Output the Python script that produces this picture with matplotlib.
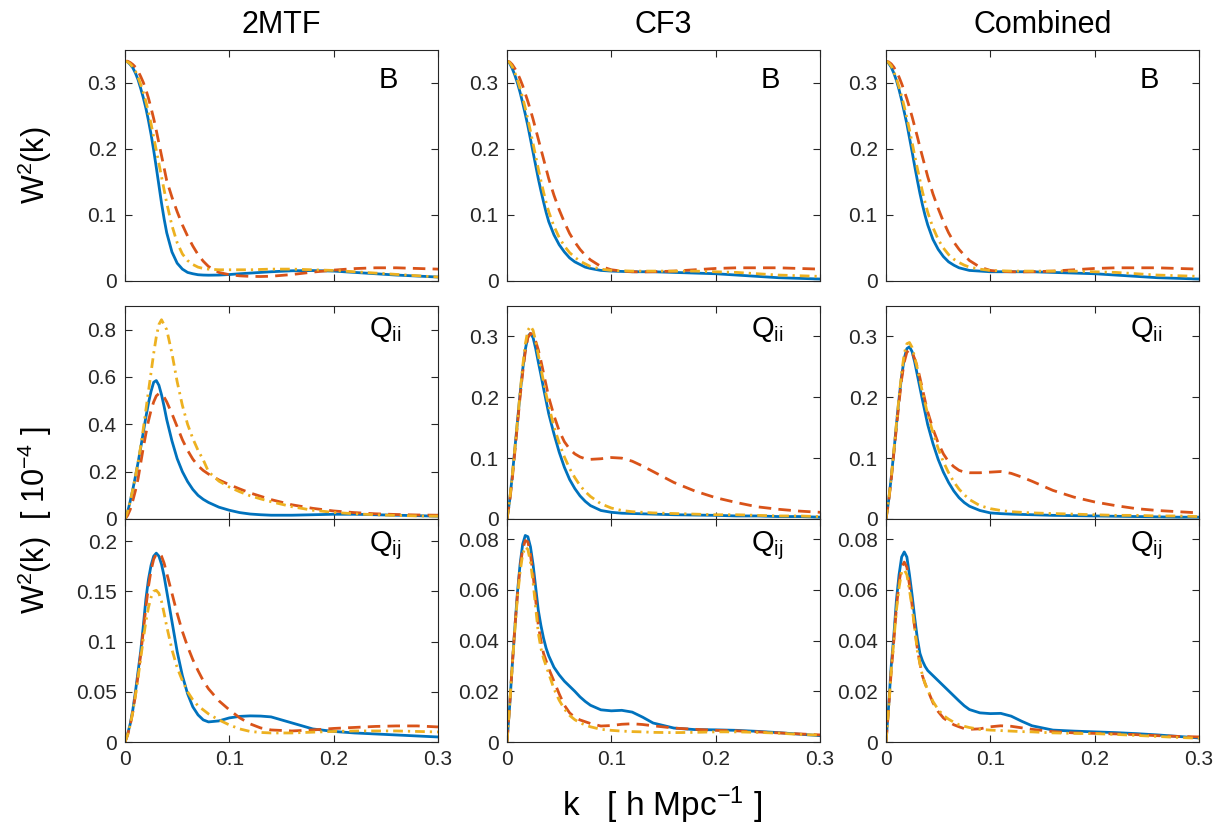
import numpy as np
import matplotlib
matplotlib.use("Agg")
import matplotlib.pyplot as plt

plt.rcParams['font.family'] = ['Liberation Sans', 'DejaVu Sans']
plt.rcParams['mathtext.default'] = 'regular'

# k grid (h/Mpc)
k = [0, .0025, .005, .0075, .01, .0125, .015, .0175, .02, .0225, .025, .0275, .03, .0325, .035, .0375,
     .04, .045, .05, .055, .06, .065, .07, .075, .08, .09, .1, .11, .12, .13, .14, .16, .18, .2,
     .22, .24, .26, .28, .3]

col_titles = ['2MTF', 'CF3', 'Combined']
row_tags = ['B', 'Q$_{ii}$', 'Q$_{ij}$']

# ---- row 1 : B ----
b_2mtf_blue = [.333, .332, .328, .323, .315, .305, .292, .278, .262, .243, .222, .198, .172, .145, .118, .094,
               .073, .044, .027, .018, .013, .011, .0095, .009, .0088, .009, .0098, .011, .012, .013, .014,
               .0155, .0158, .015, .013, .011, .009, .0075, .006]
b_2mtf_red = [.333, .333, .331, .328, .324, .318, .31, .301, .29, .277, .262, .246, .228, .209, .19, .171,
              .152, .127, .105, .085, .068, .053, .04, .03, .022, .013, .0095, .0078, .007, .0068, .0072,
              .0098, .0135, .0165, .0188, .02, .02, .019, .018]
b_2mtf_yel = [.333, .332, .329, .324, .318, .309, .298, .286, .272, .256, .238, .218, .198, .178, .158, .138,
              .118, .084, .058, .041, .031, .025, .021, .019, .018, .017, .017, .017, .017, .0175, .018,
              .018, .017, .016, .014, .012, .01, .008, .006]

b_cf3_blue = [.333, .33, .322, .312, .3, .286, .27, .253, .235, .215, .195, .175, .155, .137, .12, .104,
              .09, .07, .055, .044, .035, .029, .025, .021, .019, .016, .015, .0145, .014, .014, .014,
              .013, .012, .011, .009, .007, .005, .004, .003]
b_cf3_red = [.333, .332, .328, .322, .315, .306, .296, .284, .272, .259, .245, .23, .215, .2, .185, .17,
             .155, .13, .108, .089, .072, .059, .048, .039, .032, .022, .017, .015, .014, .0138, .014,
             .015, .017, .019, .02, .02, .02, .019, .018]
b_cf3_yel = [.333, .331, .325, .316, .305, .292, .278, .262, .245, .227, .208, .189, .17, .152, .135, .119,
             .105, .083, .066, .053, .043, .036, .03, .026, .022, .018, .016, .0155, .015, .015, .015,
             .015, .015, .014, .013, .011, .009, .008, .007]

b_comb_blue = [.333, .33, .324, .315, .304, .29, .274, .256, .238, .217, .196, .174, .153, .133, .115, .099,
               .085, .063, .048, .037, .029, .024, .02, .018, .016, .015, .014, .014, .014, .014, .014,
               .013, .012, .011, .009, .007, .005, .004, .003]
b_comb_red = [.333, .332, .329, .324, .317, .309, .299, .288, .276, .263, .249, .234, .219, .203, .188, .173,
              .158, .132, .11, .09, .073, .059, .048, .039, .031, .021, .016, .0145, .014, .0138, .014,
              .015, .017, .019, .02, .02, .02, .019, .018]
b_comb_yel = [.333, .331, .326, .317, .307, .294, .28, .264, .247, .229, .21, .19, .171, .153, .135, .119,
              .104, .081, .063, .05, .04, .033, .028, .024, .021, .018, .016, .0155, .015, .015, .015,
              .015, .015, .014, .013, .011, .009, .008, .007]

# ---- row 2 : Q_ii  [1e-4] ----
qii_2mtf_blue = [0, .03, .075, .125, .18, .238, .3, .365, .43, .49, .54, .578, .585, .565, .525, .475,
                 .42, .33, .255, .2, .158, .125, .1, .083, .07, .05, .037, .027, .021, .018, .016,
                 .016, .018, .02, .02, .018, .016, .014, .012]
qii_2mtf_red = [0, .015, .04, .078, .12, .17, .235, .3, .36, .415, .46, .495, .52, .53, .528, .515,
                .495, .445, .39, .335, .29, .253, .225, .205, .19, .165, .145, .127, .11, .096, .082,
                .06, .045, .034, .027, .022, .019, .017, .016]
qii_2mtf_yel = [0, .03, .075, .125, .18, .24, .305, .38, .46, .54, .62, .7, .77, .822, .842, .82,
                .8, .7, .58, .48, .4, .34, .29, .25, .2, .16, .135, .115, .098, .085, .073,
                .052, .037, .028, .022, .018, .015, .013, .012]

qii_cf3_blue = [0, .03, .07, .115, .16, .205, .245, .278, .3, .305, .298, .28, .258, .237, .215, .194,
                .173, .14, .11, .085, .065, .05, .038, .029, .022, .014, .011, .0095, .009, .0085, .008,
                .007, .0065, .006, .005, .005, .004, .004, .003]
qii_cf3_red = [0, .028, .065, .11, .155, .2, .24, .275, .298, .305, .302, .292, .278, .26, .24, .22,
               .2, .17, .145, .127, .115, .107, .102, .099, .098, .099, .101, .1, .095, .087, .078,
               .06, .046, .035, .027, .02, .016, .013, .011]
qii_cf3_yel = [0, .03, .07, .115, .16, .207, .25, .287, .31, .317, .31, .292, .27, .248, .226, .205,
               .186, .152, .125, .102, .083, .068, .055, .045, .037, .025, .018, .014, .012, .011, .01,
               .009, .008, .007, .007, .006, .005, .005, .004]

qii_comb_blue = [0, .03, .068, .11, .155, .198, .235, .264, .28, .283, .275, .258, .237, .216, .195, .175,
                 .155, .124, .098, .077, .06, .046, .035, .027, .021, .014, .01, .0088, .008, .0075, .007,
                 .006, .0055, .005, .0045, .004, .0035, .003, .003]
qii_comb_red = [0, .028, .065, .108, .15, .192, .23, .258, .274, .278, .274, .263, .25, .232, .213, .194,
                .176, .148, .125, .107, .094, .086, .08, .077, .076, .076, .077, .078, .075, .069, .062,
                .047, .036, .028, .022, .017, .014, .012, .01]
qii_comb_yel = [0, .03, .068, .112, .157, .2, .24, .272, .288, .29, .282, .266, .248, .228, .208, .19,
                .172, .142, .116, .094, .076, .061, .049, .04, .032, .022, .017, .014, .012, .011, .01,
                .009, .008, .007, .006, .006, .005, .005, .004]

# ---- row 3 : Q_ij  [1e-4] ----
qij_2mtf_blue = [0, .008, .018, .032, .05, .07, .09, .115, .142, .162, .176, .185, .188, .185, .177, .165,
                 .15, .12, .09, .066, .048, .035, .027, .022, .02, .021, .024, .0255, .026, .0258, .025,
                 .019, .013, .0105, .009, .008, .007, .006, .005]
qij_2mtf_red = [0, .007, .017, .03, .047, .066, .087, .11, .134, .155, .171, .182, .187, .188, .185, .178,
                .168, .148, .128, .11, .095, .082, .071, .061, .053, .041, .032, .024, .018, .014, .012,
                .011, .012, .0135, .0145, .0155, .016, .016, .015]
qij_2mtf_yel = [0, .007, .017, .03, .046, .064, .083, .102, .12, .134, .144, .15, .151, .148, .14, .128,
                .115, .092, .074, .061, .05, .042, .036, .032, .028, .022, .017, .013, .0105, .0095, .009,
                .009, .0098, .0105, .011, .011, .011, .0105, .01]

qij_cf3_blue = [0, .014, .03, .045, .059, .07, .078, .0815, .081, .077, .07, .061, .052, .046, .041, .037,
                .034, .0295, .0265, .024, .022, .02, .0178, .016, .0145, .0127, .0123, .0125, .0118, .0098, .0075,
                .0055, .0049, .0048, .0046, .0042, .0037, .0031, .0025]
qij_cf3_red = [0, .014, .03, .045, .058, .069, .076, .0795, .079, .074, .066, .056, .046, .04, .035, .032,
               .029, .024, .019, .0145, .0115, .0097, .0087, .008, .0073, .0063, .0065, .007, .0072, .0069, .0064,
               .0055, .005, .0046, .0044, .004, .0036, .0032, .0028]
qij_cf3_yel = [0, .014, .03, .044, .057, .067, .074, .077, .076, .071, .063, .053, .043, .037, .033, .03,
               .027, .021, .0165, .013, .0105, .0088, .0076, .0067, .006, .005, .0046, .0043, .0041, .004, .0038,
               .0037, .0038, .004, .004, .0038, .0035, .003, .0027]

qij_comb_blue = [0, .014, .03, .042, .056, .066, .073, .075, .073, .066, .058, .049, .041, .035, .032, .0298,
                 .0282, .0262, .0242, .0222, .0202, .0182, .0162, .0143, .0128, .0115, .0112, .0113, .0102, .0082, .0064,
                 .0047, .0043, .004, .0037, .0033, .0028, .0022, .0016]
qij_comb_red = [0, .013, .028, .04, .053, .063, .069, .071, .069, .062, .054, .045, .037, .031, .026, .023,
                .0205, .0155, .012, .0095, .008, .0068, .006, .0053, .005, .0052, .006, .0064, .0062, .0056, .005,
                .0041, .0036, .0034, .0032, .0029, .0025, .0022, .002]
qij_comb_yel = [0, .013, .028, .04, .052, .061, .067, .068, .066, .06, .053, .045, .036, .031, .026, .023,
                .0205, .016, .0128, .0105, .009, .0078, .0068, .0062, .0057, .005, .0047, .0045, .0043, .0041, .004,
                .0036, .0034, .0033, .003, .0026, .0022, .0018, .0015]

panels = [
    [(b_2mtf_blue, b_2mtf_red, b_2mtf_yel), (b_cf3_blue, b_cf3_red, b_cf3_yel), (b_comb_blue, b_comb_red, b_comb_yel)],
    [(qii_2mtf_blue, qii_2mtf_red, qii_2mtf_yel), (qii_cf3_blue, qii_cf3_red, qii_cf3_yel), (qii_comb_blue, qii_comb_red, qii_comb_yel)],
    [(qij_2mtf_blue, qij_2mtf_red, qij_2mtf_yel), (qij_cf3_blue, qij_cf3_red, qij_cf3_yel), (qij_comb_blue, qij_comb_red, qij_comb_yel)],
]

ylims = [[0.35, 0.35, 0.35], [0.9, 0.35, 0.35], [0.222, 0.088, 0.088]]
yticks = [
    [[0, .1, .2, .3]] * 3,
    [[0, .2, .4, .6, .8], [0, .1, .2, .3], [0, .1, .2, .3]],
    [[0, .05, .1, .15, .2], [0, .02, .04, .06, .08], [0, .02, .04, .06, .08]],
]

blue = '#0072BD'
red = '#D95319'
yellow = '#EDB120'
axcol = '#262626'

fig = plt.figure(figsize=(12.26, 8.33), dpi=100)

lefts = [125, 507, 886]
width = 313
rows_px = [(50, 281), (306, 519), (519, 742)]
tag_pos = [(0.81, 0.87), (0.78, 0.89), (0.78, 0.88)]
W, H = 1226, 833

for r in range(3):
    for c in range(3):
        top, bot = rows_px[r]
        ax = fig.add_axes([lefts[c] / W, 1 - bot / H, width / W, (bot - top) / H])
        yb, yr, yy = panels[r][c]
        ax.plot(k, yb, color=blue, lw=2.0, solid_joinstyle='round')
        ax.plot(k, yr, color=red, lw=2.0, dashes=(4.5, 2.6))
        ax.plot(k, yy, color=yellow, lw=2.0, dashes=(3.5, 1.8, 0.8, 1.8))
        ax.set_xlim(0, 0.3)
        ax.set_ylim(0, ylims[r][c])
        ax.set_xticks([0, 0.1, 0.2, 0.3])
        ax.set_yticks(yticks[r][c])
        ax.set_yticklabels([('%g' % v) for v in yticks[r][c]])
        if r == 2:
            ax.set_xticklabels(['0', '0.1', '0.2', '0.3'])
        else:
            ax.set_xticklabels([])
        ax.tick_params(direction='in', top=True, right=True, length=5, width=0.8,
                       labelsize=15, colors=axcol, pad=6)
        for s in ax.spines.values():
            s.set_color(axcol)
            s.set_linewidth(0.8)
        tx, ty = tag_pos[r]
        ax.text(tx, ty, row_tags[r], transform=ax.transAxes, fontsize=21,
                ha='left', va='center', color='black')
        if r == 0:
            ax.set_title(col_titles[c], fontsize=22, pad=12)

fig.text(35 / W, 1 - 165 / H, 'W$^2$(k)', rotation=90, fontsize=22, ha='center', va='center')
fig.text(35 / W, 1 - 520 / H, 'W$^2$(k)  [ 10$^{-4}$ ]', rotation=90, fontsize=22,
         ha='center', va='center')
fig.text(662 / W, 1 - 805 / H, 'k   [ h Mpc$^{-1}$ ]', fontsize=24, ha='center', va='center')

fig.savefig('out.png', dpi=100)
